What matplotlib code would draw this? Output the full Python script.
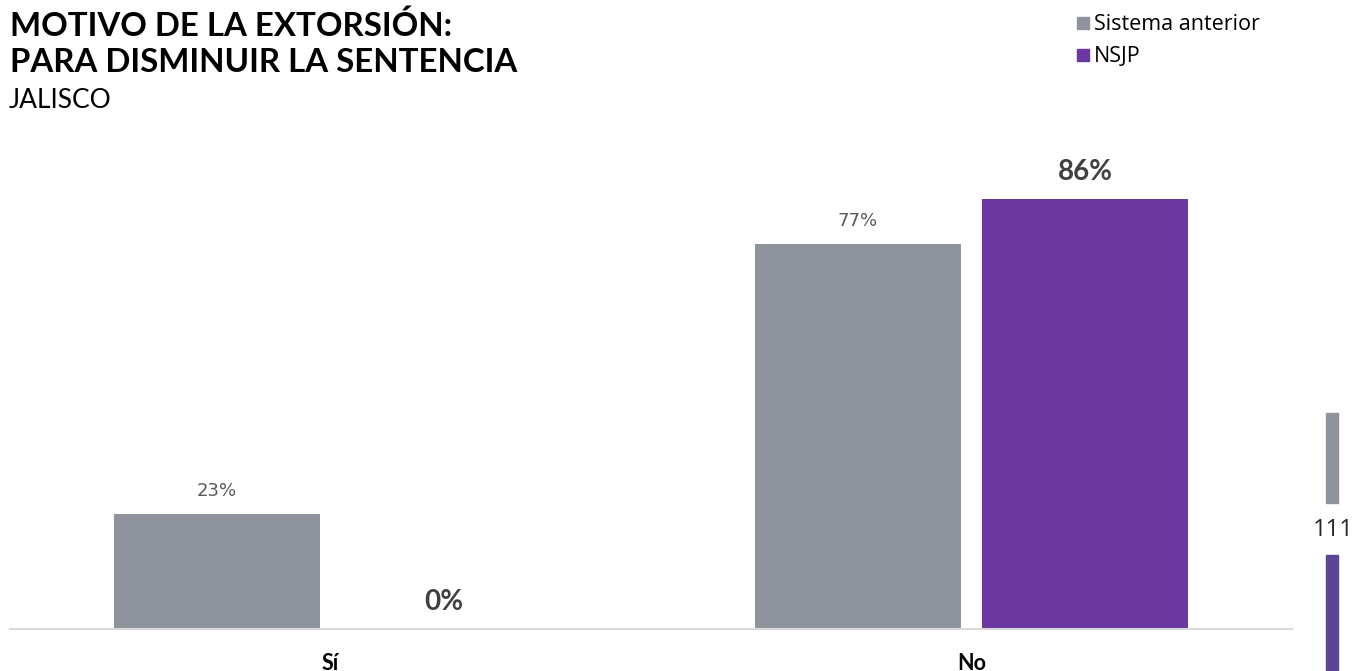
import matplotlib
matplotlib.use("Agg")
import matplotlib.pyplot as plt
from matplotlib.patches import Rectangle
import numpy as np

categories = ["Sí", "No"]
series_names = ["Sistema anterior", "NSJP"]
sistema_anterior = [23, 77]
nsjp = [0, 86]
side_label = "111"

GREY = "#8F939E"
PURPLE = "#6A38A0"

plt.rcParams['font.family'] = ['Lato', 'DejaVu Sans']

W, H = 1355, 671
fig = plt.figure(figsize=(W / 100, H / 100), dpi=100)

ax_left, ax_right = 10 / W, 1292 / W
ax_bottom, ax_top = (H - 629) / H, (H - 129) / H
ax = fig.add_axes([ax_left, ax_bottom, ax_right - ax_left, ax_top - ax_bottom])

x = np.arange(len(categories))
bw = 0.32
off = 0.177
ax.bar(x - off, sistema_anterior, bw, color=GREY, label=series_names[0])
ax.bar(x + off, nsjp, bw, color=PURPLE, label=series_names[1])

for xi, v in zip(x - off, sistema_anterior):
    ax.text(xi, v + 4.5, f"{v}%", ha="center", va="center", fontsize=13,
            color="#595959", fontfamily=['DejaVu Sans'])
for xi, v in zip(x + off, nsjp):
    ax.text(xi, v + 5.5, f"{v}%", ha="center", va="center", fontsize=20,
            color="#404040", fontweight="bold")

ax.set_xlim(-0.5, 1.5)
ax.set_ylim(0, 100)
ax.set_xticks(x)
ax.set_xticklabels(categories, fontsize=15.5, fontweight="bold", color="black")
ax.tick_params(axis="x", length=0, pad=17)
ax.set_yticks([])
for s in ["top", "right", "left"]:
    ax.spines[s].set_visible(False)
ax.spines["bottom"].set_color("#D9D9D9")
ax.spines["bottom"].set_linewidth(1.5)

# Title
fig.text(10 / W, 1 - 36 / H, "MOTIVO DE LA EXTORSIÓN:",
         ha="left", va="baseline", fontsize=23.8, fontweight="bold", color="black")
fig.text(10 / W, 1 - 72 / H, "PARA DISMINUIR LA SENTENCIA",
         ha="left", va="baseline", fontsize=23.8, fontweight="bold", color="black")
fig.text(9 / W, 1 - 108 / H, "JALISCO", ha="left", va="baseline", fontsize=19,
         color="black", fontweight="normal")

# Legend
for i, (name, col) in enumerate(zip(series_names, [GREY, PURPLE])):
    yc = 23 + i * 32
    fig.patches.append(Rectangle((1077 / W, 1 - (yc + 6) / H), 12 / W, 12 / H,
                                 transform=fig.transFigure, color=col))
    fig.text(1094 / W, 1 - (yc + 1) / H, name, ha="left", va="center", fontsize=15.5,
             color="black", fontfamily=['Open Sans', 'DejaVu Sans'])

# Right-side decoration
fig.patches.append(Rectangle((1326 / W, 1 - 503 / H), 12 / W, 90 / H,
                             transform=fig.transFigure, color=GREY))
fig.patches.append(Rectangle((1326 / W, 0), 12 / W, (H - 555) / H,
                             transform=fig.transFigure, color="#5E4496"))
fig.text(1333 / W, 1 - 530 / H, side_label, ha="center", va="center",
         fontsize=17, color="#262626", fontfamily=['Open Sans', 'DejaVu Sans'])

fig.savefig("out.png", dpi=100, facecolor="white")
